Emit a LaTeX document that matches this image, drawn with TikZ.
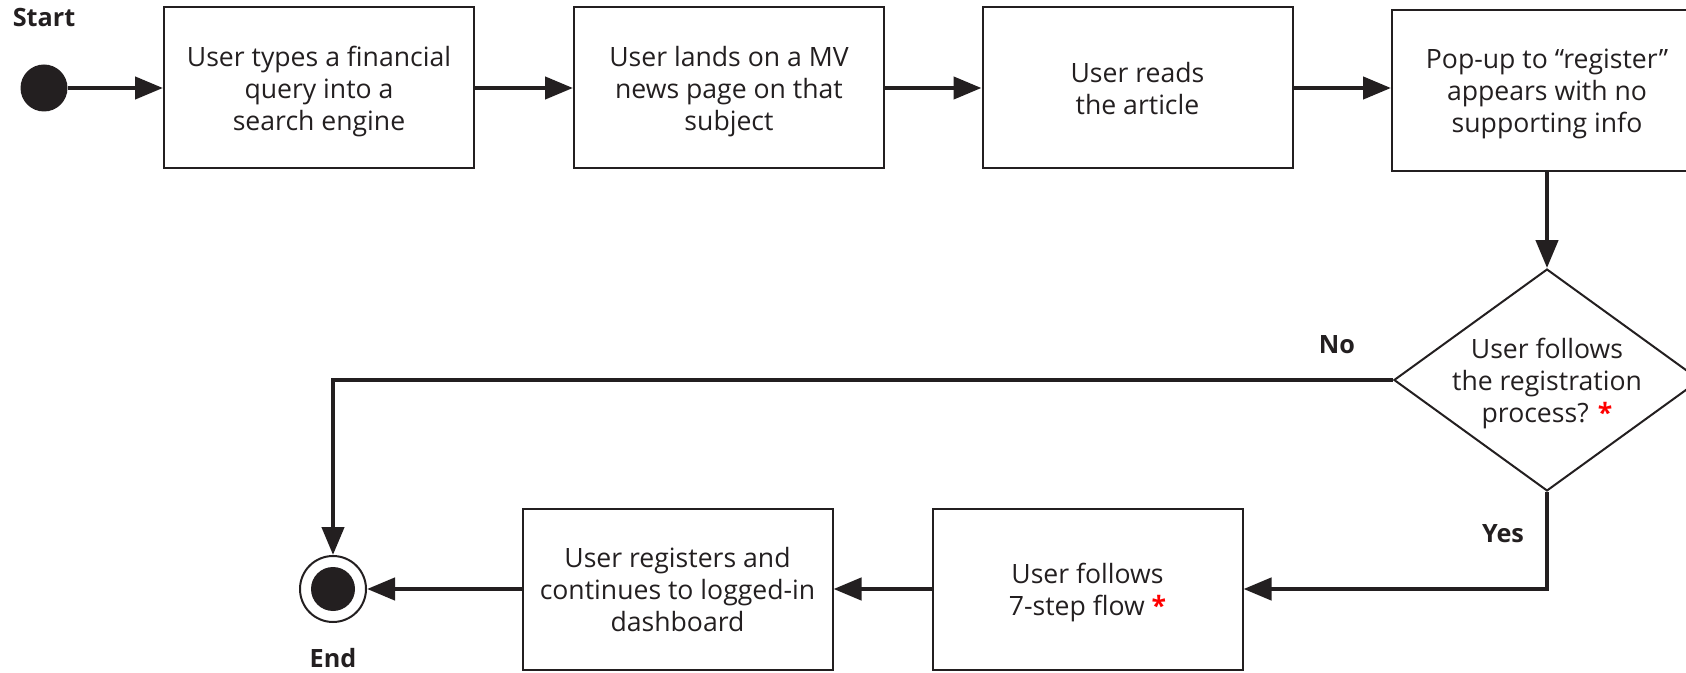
\documentclass[tikz,border=0pt]{standalone}
\usepackage{fontspec}
\setmainfont{Open Sans}
\usetikzlibrary{arrows.meta,shapes.geometric}
\definecolor{ink}{RGB}{35,31,32}
\newcommand{\redstar}{\textcolor{red}{\bfseries *}}
\begin{document}
\begin{tikzpicture}[x=0.5pt, y=-0.5pt, font=\fontsize{13.3pt}{16pt}\selectfont, text=ink,
    box/.style={draw=ink, line width=1pt, minimum width=155pt, minimum height=80.5pt, align=center,
        text depth=0pt},
    decision/.style={diamond, draw=ink, line width=1pt, aspect=1.38, inner sep=0pt,
        minimum width=152pt, minimum height=110pt, align=center, text depth=-6pt},
    flow/.style={draw=ink, line width=2.2pt, -{Triangle[length=14pt, width=11pt]}},
    tag/.style={font=\fontsize{12.6pt}{16pt}\selectfont\bfseries}]
    \useasboundingbox (0,0) rectangle (1686,673);
    \node[circle, fill=ink, minimum size=23.5pt, inner sep=0pt] (start) at (44,88) {};
    \node[tag] (startlbl) at (44,18) {Start};
    \node[box] (query) at (319,88) {User types a financial\\query into a\\search engine};
    \node[box] (lands) at (729,88) {User lands on a MV\\news page on that\\subject};
    \node[box] (reads) at (1137.5,88) {User reads\\the article};
    \node[box] (popup) at (1547,91) {Pop-up to “register”\\appears with no\\supporting info};
    \foreach \a/\b in {start/query, query/lands, lands/reads, reads/popup}
        \draw[flow] (\a) -- (\a -| \b.west);
    \node[decision] (follows) at (1547,380) {User follows\\the registration\\process? \redstar};
    \draw[flow] (popup) -- (follows);
    \node[circle, draw=ink, line width=1pt, minimum size=33pt, inner sep=0pt] (end) at (333,589) {};
    \fill[ink] (end.center) circle[radius=11pt];
    \node[tag] (endlbl) at (333,658) {End};
    \node[box] (steps) at (1087.5,589) {User follows\\7-step flow \redstar};
    \node[box] (registers) at (677.5,589) {User registers and\\continues to logged-in\\dashboard};
    \draw[flow] (follows.west) -| (end);
    \node[tag] (no) at (1337,345) {No};
    \draw[flow] (follows.south) |- (steps);
    \node[tag] (yes) at (1503,534) {Yes};
    \draw[flow] (steps) -- (registers);
    \draw[flow] (registers) -- (end);
\end{tikzpicture}
\end{document}
